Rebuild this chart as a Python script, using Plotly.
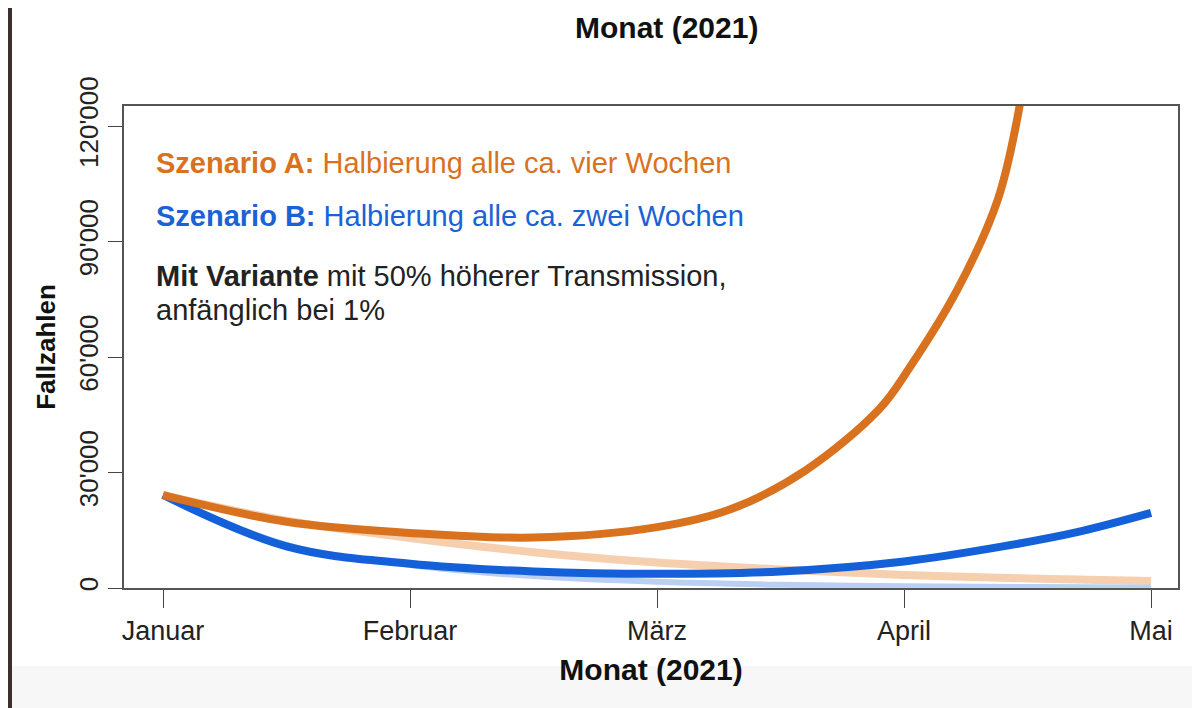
import plotly.graph_objects as go

# month positions: Januar=0 ... Mai=4
months = ["Januar", "Februar", "März", "April", "Mai"]
month_pos = [0, 1, 2, 3, 4]

a_x = [0, 0.5, 1.0, 1.5, 2.0, 2.3, 2.6, 2.9, 3.02, 3.22, 3.38, 3.47]
a_y = [24150, 17200, 14300, 13100, 15800, 20500, 30500, 46500, 57000, 78000, 101000, 126000]

b_x = [0, 0.5, 1.0, 1.5, 2.0, 2.5, 3.0, 3.4, 3.7, 4.0]
b_y = [24150, 10800, 6300, 4300, 3700, 4300, 6900, 10800, 14500, 19500]

a0_x = [0, 0.5, 1.0, 1.5, 2.0, 2.5, 3.0, 3.5, 4.0]
a0_y = [24150, 17500, 13000, 9300, 6600, 4800, 3400, 2500, 1800]

b0_x = [0, 0.5, 1.0, 1.5, 2.0, 2.5, 3.0, 3.5, 4.0]
b0_y = [24150, 11200, 6000, 3100, 1600, 850, 450, 250, 150]

y_ticks = [0, 30000, 60000, 90000, 120000]
y_labels = ["0", "30'000", "60'000", "90'000", "120'000"]

font = "Liberation Sans, Arial, sans-serif"

fig = go.Figure()
fig.add_trace(go.Scatter(x=a0_x, y=a0_y, mode="lines", line=dict(color="#f5cfae", width=8, shape="spline")))
fig.add_trace(go.Scatter(x=b0_x, y=b0_y, mode="lines", line=dict(color="#b9d0f2", width=6, shape="spline")))
fig.add_trace(go.Scatter(x=b_x, y=b_y, mode="lines", line=dict(color="#1460d8", width=8, shape="spline")))
fig.add_trace(go.Scatter(x=a_x, y=a_y, mode="lines", line=dict(color="#d9721f", width=8, shape="spline")))

notes = [
    (155, "<b>Szenario A:</b> Halbierung alle ca. vier Wochen", "#d9721f"),
    (208, "<b>Szenario B:</b> Halbierung alle ca. zwei Wochen", "#1a62d6"),
    (268, "<b>Mit Variante</b> mit 50% höherer Transmission,", "#222222"),
    (302, "anfänglich bei 1%", "#222222"),
]
annotations = []
for py, txt, col in notes:
    annotations.append(dict(xref="paper", yref="paper", x=(146 - 116) / 1054, y=(580 - py) / 482,
                            xanchor="left", yanchor="middle", showarrow=False, text=txt,
                            font=dict(family=font, size=29, color=col)))
annotations.append(dict(xref="paper", yref="paper", x=(658 - 116) / 1054, y=(580 - 20) / 482,
                        xanchor="center", yanchor="middle", showarrow=False, text="<b>Monat (2021)</b>",
                        font=dict(family=font, size=30, color="#111")))

fig.update_layout(
    width=1200, height=708,
    margin=dict(l=116, r=30, t=98, b=128),
    paper_bgcolor="white", plot_bgcolor="white",
    showlegend=False,
    annotations=annotations,
    shapes=[
        dict(type="rect", xref="paper", yref="paper", x0=-116 / 1054, x1=-112 / 1054, y0=-128 / 482, y1=610 / 482,
             fillcolor="#3b302c", line=dict(width=0), layer="above"),
        dict(type="rect", xref="paper", yref="paper", x0=-112 / 1054, x1=1.03, y0=-128 / 482, y1=-78 / 482,
             fillcolor="#f7f7f7", line=dict(width=0), layer="below"),
    ],
    xaxis=dict(range=[-0.158, 4.109], tickvals=month_pos, ticktext=months, ticks="outside", ticklen=18,
               tickcolor="#444", showgrid=False, zeroline=False, showline=True, linecolor="#555", linewidth=2,
               mirror=True, tickfont=dict(family=font, size=27, color="#222"),
               title=dict(text="<b>Monat (2021)</b>", font=dict(family=font, size=30, color="#111"), standoff=14)),
    yaxis=dict(range=[0, 125200], tickvals=y_ticks, ticktext=y_labels, ticks="outside", ticklen=14,
               tickcolor="#444", tickangle=-90, showgrid=False, zeroline=False, showline=True, linecolor="#555",
               linewidth=2, mirror=True, tickfont=dict(family=font, size=26, color="#222"),
               title=dict(text="<b>Fallzahlen</b>", font=dict(family=font, size=26, color="#111"), standoff=10)),
)

fig.write_html("out.html")
